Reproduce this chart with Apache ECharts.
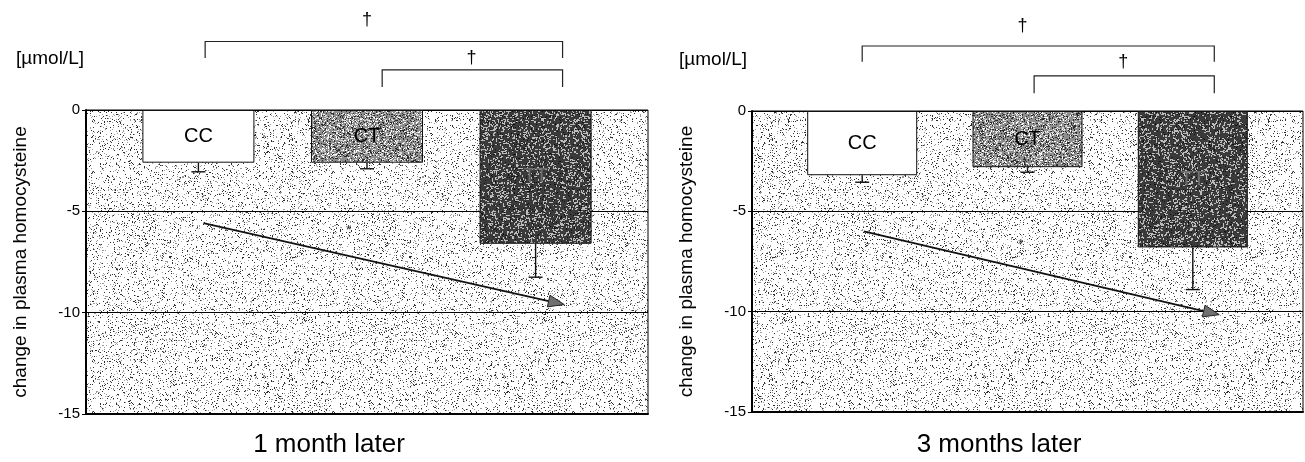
<!DOCTYPE html>
<html>
<head>
<meta charset="utf-8">
<title>Change in plasma homocysteine by genotype</title>
<script src="https://cdn.jsdelivr.net/npm/echarts@6/dist/echarts.min.js"></script>
<style>
  html, body { margin: 0; padding: 0; background: #fff; }
  #chart { width: 1305px; height: 462px; }
</style>
</head>
<body>
<div id="chart"></div>
<script>
// genotypes sit at x = 1, 2, 3 on each panel
var genotypes = ["CC", "CT", "TT"];
var yTicks = [0, -5, -10, -15];
var panelTitles = ["1 month later", "3 months later"];
var unitLabel = "[\u00b5mol/L]";
var yName = "change in plasma homocysteine";

// mean change (bar end) and lower end of the error whisker
var month1Mean = [-2.6, -2.6, -6.6];
var month1Low = [-3.05, -2.9, -8.25];
var month3Mean = [-3.2, -2.8, -6.8];
var month3Low = [-3.55, -3.05, -8.9];

var font = "'Liberation Sans', Arial, sans-serif";

// stipple textures like the scanned print (fixed seed, so the same every time)
function texture(size, base, dots, seed) {
  var c = document.createElement("canvas");
  c.width = c.height = size;
  var ctx = c.getContext("2d");
  ctx.fillStyle = base;
  ctx.fillRect(0, 0, size, size);
  var s = seed;
  function next() {
    s = (s * 16807) % 2147483647;
    return s / 2147483647;
  }
  dots.forEach(function (d) {
    ctx.fillStyle = d[0];
    var n = Math.round(d[1] * size * size);
    for (var i = 0; i < n; i++) {
      ctx.fillRect(Math.floor(next() * size), Math.floor(next() * size), d[2], d[3]);
    }
  });
  return { image: c, repeat: "repeat" };
}

var bgFill = texture(240, "#ffffff", [["#2e2e2e", 0.068, 1, 1], ["#9a9a9a", 0.07, 1, 1]], 11);
var ctFill = texture(200, "#8e8e8e", [["#2a2a2a", 0.26, 1, 1], ["#ffffff", 0.16, 1, 1], ["#d8d8d8", 0.05, 2, 1]], 29);
var ttFill = texture(200, "#3a3a3a", [["#bdbdbd", 0.08, 2, 1], ["#bdbdbd", 0.06, 1, 2], ["#111111", 0.075, 1, 1]], 53);
var barFills = ["#ffffff", ctFill, ttFill];
var labelColors = ["#000", "#000", "#6e6e6e"];

// layout of the two panels (pixels)
var grids = [
  { left: 86, top: 110, width: 562, height: 304 },
  { left: 752, top: 111, width: 551, height: 301 }
];
var barWidths = [112, 110];

// annotation positions in data units: brackets [xLeft, xRight, yTop, yLeg, xDagger, yDagger]
var brackets = [
  [[1.04, 3.16, 3.38, 2.57, 2.0, 4.46], [2.09, 3.16, 1.98, 1.14, 2.62, 2.57]],
  [[1.0, 3.13, 3.24, 2.46, 1.97, 4.24], [2.04, 3.13, 1.75, 0.88, 2.58, 2.43]]
];
// trend arrow [x1, y1, x2, y2, xStar, yStar]
var arrows = [
  [1.03, -5.58, 3.17, -9.6, 1.89, -5.94],
  [1.01, -6.0, 3.16, -10.15, 1.96, -6.65]
];

var means = [month1Mean, month3Mean];
var lows = [month1Low, month3Low];

function renderError(params, api) {
  var top = api.coord([api.value(0), api.value(1)]);
  var bot = api.coord([api.value(0), api.value(2)]);
  var cap = 7;
  return {
    type: "group",
    children: [
      { type: "line", shape: { x1: top[0], y1: top[1], x2: bot[0], y2: bot[1] }, style: { stroke: "#111", lineWidth: 1.4 } },
      { type: "line", shape: { x1: bot[0] - cap, y1: bot[1], x2: bot[0] + cap, y2: bot[1] }, style: { stroke: "#111", lineWidth: 1.4 } }
    ]
  };
}

function renderBracket(params, api) {
  var a = api.coord([api.value(0), api.value(3)]);
  var b = api.coord([api.value(0), api.value(2)]);
  var c = api.coord([api.value(1), api.value(2)]);
  var d = api.coord([api.value(1), api.value(3)]);
  var t = api.coord([api.value(4), api.value(5)]);
  return {
    type: "group",
    children: [
      { type: "polyline", shape: { points: [a, b, c, d] }, style: { stroke: "#222", lineWidth: 1.2, fill: null } },
      { type: "text", x: t[0], y: t[1], style: { text: "\u2020", fontSize: 18, fontFamily: font, fill: "#000", align: "center", verticalAlign: "middle" } }
    ]
  };
}

function renderArrow(params, api) {
  var p1 = api.coord([api.value(0), api.value(1)]);
  var p2 = api.coord([api.value(2), api.value(3)]);
  var st = api.coord([api.value(4), api.value(5)]);
  var ang = Math.atan2(p2[1] - p1[1], p2[0] - p1[0]);
  var len = 16, half = 6;
  var base = [p2[0] - len * Math.cos(ang), p2[1] - len * Math.sin(ang)];
  var l = [base[0] + half * Math.sin(ang), base[1] - half * Math.cos(ang)];
  var r = [base[0] - half * Math.sin(ang), base[1] + half * Math.cos(ang)];
  return {
    type: "group",
    children: [
      { type: "line", shape: { x1: p1[0], y1: p1[1], x2: base[0], y2: base[1] }, style: { stroke: "#111", lineWidth: 1.8 } },
      { type: "polygon", shape: { points: [p2, l, r] }, style: { fill: "#707070", stroke: "#222", lineWidth: 1 } },
      { type: "text", x: st[0], y: st[1], style: { text: "*", fontSize: 13, fontFamily: font, fill: "#222", align: "center", verticalAlign: "middle" } }
    ]
  };
}

var option = {
  animation: false,
  title: [],
  grid: [],
  xAxis: [],
  yAxis: [],
  series: []
};

var titlePos = [
  { main: [329, 432], unit: [50, 49] },
  { main: [999, 432], unit: [713, 50] }
];

[0, 1].forEach(function (i) {
  var g = grids[i];
  option.grid.push({
    left: g.left, top: g.top, width: g.width, height: g.height,
    show: true, backgroundColor: bgFill, borderColor: "#000", borderWidth: 1
  });
  option.xAxis.push({
    gridIndex: i, type: "value", min: 1 / 3, max: 11 / 3,
    axisLine: { show: true, onZero: false, lineStyle: { color: "#000", width: 2 } },
    axisTick: { show: false }, axisLabel: { show: false }, splitLine: { show: false }
  });
  option.yAxis.push({
    gridIndex: i, type: "value", min: yTicks[yTicks.length - 1], max: yTicks[0], interval: 5,
    axisLine: { show: true, onZero: false, lineStyle: { color: "#000", width: 2 } },
    axisTick: { show: true, length: 4, lineStyle: { color: "#000" } },
    axisLabel: { fontSize: 15, fontFamily: font, color: "#000", margin: 6 },
    splitLine: { show: true, lineStyle: { color: "#000", width: 1.2 } },
    name: yName, nameLocation: "middle", nameRotate: 90, nameGap: 56,
    nameTextStyle: { fontSize: 19, fontFamily: font, color: "#000" }
  });
  option.title.push({
    text: panelTitles[i], left: titlePos[i].main[0], top: titlePos[i].main[1], textAlign: "center",
    padding: 0, textStyle: { fontSize: 26, fontWeight: "normal", fontFamily: font, color: "#000" }
  });
  option.title.push({
    text: unitLabel, left: titlePos[i].unit[0], top: titlePos[i].unit[1], textAlign: "center",
    padding: 0, textStyle: { fontSize: 19, fontWeight: "normal", fontFamily: font, color: "#000" }
  });

  option.series.push({
    type: "bar", xAxisIndex: i, yAxisIndex: i, barWidth: barWidths[i], silent: true,
    data: genotypes.map(function (gname, k) {
      return {
        value: [k + 1, means[i][k]],
        itemStyle: { color: barFills[k], borderColor: "#111", borderWidth: 1 },
        label: { color: labelColors[k] }
      };
    }),
    label: {
      show: true, position: "inside", fontSize: 20, fontFamily: font, textBorderWidth: 0,
      formatter: function (p) { return genotypes[p.dataIndex]; }
    }
  });
  option.series.push({
    type: "custom", xAxisIndex: i, yAxisIndex: i, silent: true, clip: false,
    renderItem: renderError,
    data: genotypes.map(function (gname, k) { return [k + 1, means[i][k], lows[i][k]]; })
  });
  option.series.push({
    type: "custom", xAxisIndex: i, yAxisIndex: i, silent: true, clip: false,
    renderItem: renderBracket, data: brackets[i]
  });
  option.series.push({
    type: "custom", xAxisIndex: i, yAxisIndex: i, silent: true, clip: false,
    renderItem: renderArrow, data: [arrows[i]]
  });
});

var chart = echarts.init(document.getElementById("chart"));
chart.setOption(option);
</script>
</body>
</html>
